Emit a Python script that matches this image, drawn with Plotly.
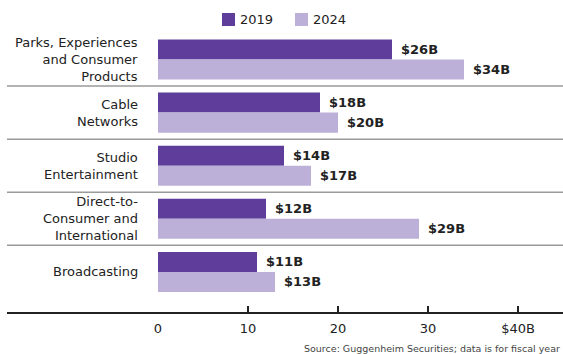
import plotly.graph_objects as go

# Segment revenue, in billions of dollars
categories = [
    "Parks, Experiences<br>and Consumer<br>Products",
    "Cable<br>Networks",
    "Studio<br>Entertainment",
    "Direct-to-<br>Consumer and<br>International",
    "Broadcasting",
]
rev_2019 = [26, 18, 14, 12, 11]
rev_2024 = [34, 20, 17, 29, 13]
series_names = ["2019", "2024"]
tick_vals = [0, 10, 20, 30, 40]
tick_text = ["0", "10", "20", "30", "$40B"]
source_note = "Source: Guggenheim Securities; data is for fiscal year"

DARK = "#5e3e9a"
LIGHT = "#bcb0d8"
TEXT = "#222222"
BAR_W = 0.377

W, H = 563, 354
ML, MR, MT, MB = 158, 0, 30, 41
PW = W - ML - MR

pos = list(range(len(categories)))

fig = go.Figure()
fig.add_trace(go.Bar(
    y=pos, x=rev_2019, orientation="h", name=series_names[0],
    marker=dict(color=DARK, line=dict(width=0)),
    width=BAR_W, offset=-BAR_W, showlegend=False,
))
fig.add_trace(go.Bar(
    y=pos, x=rev_2024, orientation="h", name=series_names[1],
    marker=dict(color=LIGHT, line=dict(width=0)),
    width=BAR_W, offset=0, showlegend=False,
))

annotations = []
# value labels at the end of each bar
for i, (a, b) in enumerate(zip(rev_2019, rev_2024)):
    for v, yc in ((a, i - BAR_W / 2), (b, i + BAR_W / 2)):
        annotations.append(dict(
            x=v, y=yc, xref="x", yref="y", text=f"${v}B",
            showarrow=False, xanchor="left", yanchor="middle", xshift=7,
            font=dict(family="DejaVu Sans", size=13, color=TEXT, weight="bold"),
        ))

# category labels, right aligned left of the bars
for i, c in enumerate(categories):
    annotations.append(dict(
        x=0, y=i, xref="paper", yref="y", text=c, showarrow=False,
        xanchor="right", yanchor="middle", align="right", xshift=-18,
        font=dict(family="DejaVu Sans", size=13, color=TEXT),
    ))

# legend row
legend_x = [222, 295]
shapes = []
for lx, name, col in zip(legend_x, series_names, [DARK, LIGHT]):
    x0 = (lx - ML) / PW
    x1 = (lx + 13 - ML) / PW
    shapes.append(dict(
        type="rect", xref="paper", yref="paper", x0=x0, x1=x1,
        y0=1 + (MT - 26) / (H - MT - MB), y1=1 + (MT - 13) / (H - MT - MB),
        fillcolor=col, line=dict(width=0),
    ))
    annotations.append(dict(
        x=x1, y=1 + (MT - 19.5) / (H - MT - MB), xref="paper", yref="paper",
        text=name, showarrow=False, xanchor="left", yanchor="middle", xshift=3,
        font=dict(family="DejaVu Sans", size=13, color=TEXT),
    ))

# source note
annotations.append(dict(
    x=1, y=0, xref="paper", yref="paper", text=source_note, showarrow=False,
    xanchor="right", yanchor="top", yshift=-28, xshift=-1,
    font=dict(family="DejaVu Sans", size=9.5, color="#444"),
))

left_edge = (7 - ML) / PW
# separators between categories
for k in range(len(categories) - 1):
    shapes.append(dict(
        type="line", xref="paper", yref="y", x0=left_edge, x1=1,
        y0=k + 0.5, y1=k + 0.5, line=dict(color="#9a9a9a", width=1.5),
    ))
# baseline
shapes.append(dict(
    type="line", xref="paper", yref="paper", x0=left_edge, x1=1,
    y0=0, y1=0, line=dict(color="#222", width=2),
))

fig.update_layout(
    width=W, height=H,
    margin=dict(l=ML, r=MR, t=MT, b=MB, pad=0),
    paper_bgcolor="white", plot_bgcolor="white",
    barmode="overlay",
    annotations=annotations, shapes=shapes,
    xaxis=dict(
        range=[0, 45], tickvals=tick_vals, ticktext=tick_text,
        ticks="inside", ticklen=7, tickwidth=2, tickcolor="#222",
        showgrid=False, zeroline=False, showline=False,
        tickfont=dict(family="DejaVu Sans", size=13, color=TEXT),
        ticklabelstandoff=6,
    ),
    yaxis=dict(
        range=[4.774, -0.556], showticklabels=False, showgrid=False,
        zeroline=False, showline=False, ticks="",
    ),
)

fig.write_html("out.html")
